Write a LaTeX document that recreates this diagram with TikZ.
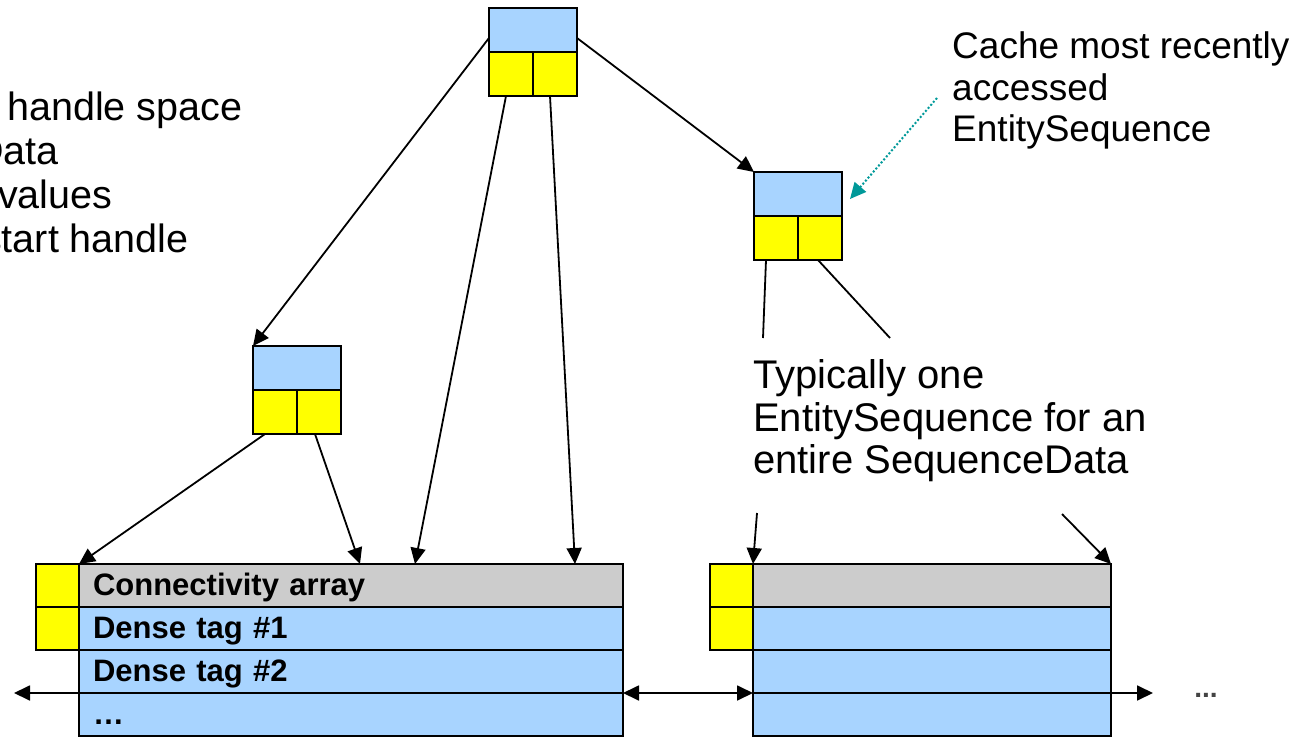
\documentclass[tikz,border=0pt]{standalone}
\usepackage{fontspec}
\setmainfont{Liberation Sans}
\usetikzlibrary{arrows.meta,calc}
\definecolor{cellblue}{RGB}{168,212,255}
\definecolor{cellyellow}{RGB}{255,255,0}
\definecolor{cellgray}{RGB}{204,204,204}
\definecolor{pointer}{RGB}{0,153,153}
\definecolor{dotgray}{RGB}{68,68,68}

\begin{document}
\begin{tikzpicture}[x=1pt,y=-1pt,
  cell/.style={draw=black, line width=2pt, inner sep=0pt, outer sep=0pt, anchor=north west},
  headcell/.style={cell, fill=cellblue, minimum width=88pt, minimum height=44pt},
  halfcell/.style={cell, fill=cellyellow, minimum width=44pt, minimum height=44pt},
  tagcell/.style={cell, fill=cellyellow, minimum width=43pt, minimum height=43pt},
  rowcell/.style={cell, minimum height=43pt, inner xsep=14pt, align=left,
    text height=24pt, text depth=4pt,
    font=\fontsize{31}{34}\selectfont\bfseries},
  leftrow/.style={rowcell, text width=516pt},
  rightrow/.style={rowcell, text width=330pt},
  label/.style={anchor=base west, inner sep=0pt, font=\fontsize{40}{44}\selectfont},
  smalllabel/.style={label, font=\fontsize{37}{41}\selectfont},
  sidelabel/.style={label, font=\fontsize{39.5}{43}\selectfont},
  tip/.tip={Triangle[length=16pt,width=15pt]},
  link/.style={line width=1.8pt, -tip},
  plain/.style={line width=1.8pt},
  both/.style={line width=1.8pt, tip-tip}
]
\path[use as bounding box] (0,0) rectangle (1311,743);
\clip (0,0) rectangle (1311,743);

% descriptive text on the left
\node[sidelabel] (ln1) at (7,121) {handle space};
\node[sidelabel] (ln2) at (-25,165) {Data};
\node[sidelabel] (ln3) at (-2,209) {values};
\node[sidelabel] (ln4) at (-18,253) {start handle};

% root EntitySequence record
\node[headcell] (t) at (489,8) {};
\node[halfcell] (tl) at (489,52) {};
\node[halfcell] (tr) at (533,52) {};

% left child record
\node[headcell] (l) at (253,346) {};
\node[halfcell] (ll) at (253,390) {};
\node[halfcell] (lr) at (297,390) {};

% cached record on the right
\node[headcell] (rn) at (754,172) {};
\node[halfcell] (rl) at (754,216) {};
\node[halfcell] (rr) at (798,216) {};

% first SequenceData block
\node[tagcell] (ly0) at (36,564) {};
\node[tagcell] (ly1) at (36,607) {};
\node[leftrow, fill=cellgray] (conn) at (79,564) {Connectivity array};
\node[leftrow, fill=cellblue] (d1) at (79,607) {Dense tag \#1};
\node[leftrow, fill=cellblue] (d2) at (79,650) {Dense tag \#2};
\node[leftrow, fill=cellblue] (d3) at (79,693) {…};

% second SequenceData block
\node[tagcell] (ry0) at (710,564) {};
\node[tagcell] (ry1) at (710,607) {};
\node[rightrow, fill=cellgray] (r0) at (753,564) {};
\node[rightrow, fill=cellblue] (r1) at (753,607) {};
\node[rightrow, fill=cellblue] (r2) at (753,650) {};
\node[rightrow, fill=cellblue] (r3) at (753,693) {};

\node[anchor=center, inner sep=0pt, text=dotgray, font=\fontsize{28}{30}\selectfont\bfseries] (more) at (1206,695) {...};

% annotations
\node[smalllabel] (c1) at (952,59) {Cache most recently};
\node[smalllabel] (c2) at (952,101) {accessed};
\node[smalllabel] (c3) at (952,142) {EntitySequence};

\node[label] (s1) at (753,388) {Typically one};
\node[label] (s2) at (753,431) {EntitySequence for an};
\node[label] (s3) at (753,473) {entire SequenceData};

% tree links
\draw[link] ([yshift=-8pt]t.west) -- (l.north west);
\draw[link] ([yshift=-8pt]t.east) -- (rn.north west);
\draw[link] ([xshift=-5pt]tl.south) -- ($(conn.north west)+(336,0)$);
\draw[link] ([xshift=-5pt]tr.south) -- ($(conn.north west)+(496,0)$);
\draw[link] ([xshift=-10pt]ll.south) -- (ly0.north east);
\draw[link] ([xshift=-4pt]lr.south) -- ($(conn.north west)+(281,0)$);

% links from the cached record, interrupted by the text
\coordinate (ra) at (763,338);
\coordinate (rb) at (890,338);
\coordinate (rc) at (757,513);
\coordinate (rd) at (1062,514);
\draw[plain] ([xshift=-10pt]rl.south) -- (ra);
\draw[plain] ([xshift=-2pt]rr.south) -- (rb);
\draw[link] (rc) -- (r0.north west);
\draw[link] (rd) -- (r0.north east);

% cache pointer
\draw[pointer, line width=2pt, dash pattern=on 2pt off 2pt, -tip]
  ([xshift=-15pt,yshift=3pt]c2.base west) -- ([xshift=8pt,yshift=-5pt]rn.east);

% sequence list links
\coordinate (prev) at (14,693);
\coordinate (next) at (1153,693);
\draw[link] (d3.north west) -- (prev);
\draw[both] (d3.north east) -- (r3.north west);
\draw[link] (r3.north west) -- (next);
\end{tikzpicture}
\end{document}
